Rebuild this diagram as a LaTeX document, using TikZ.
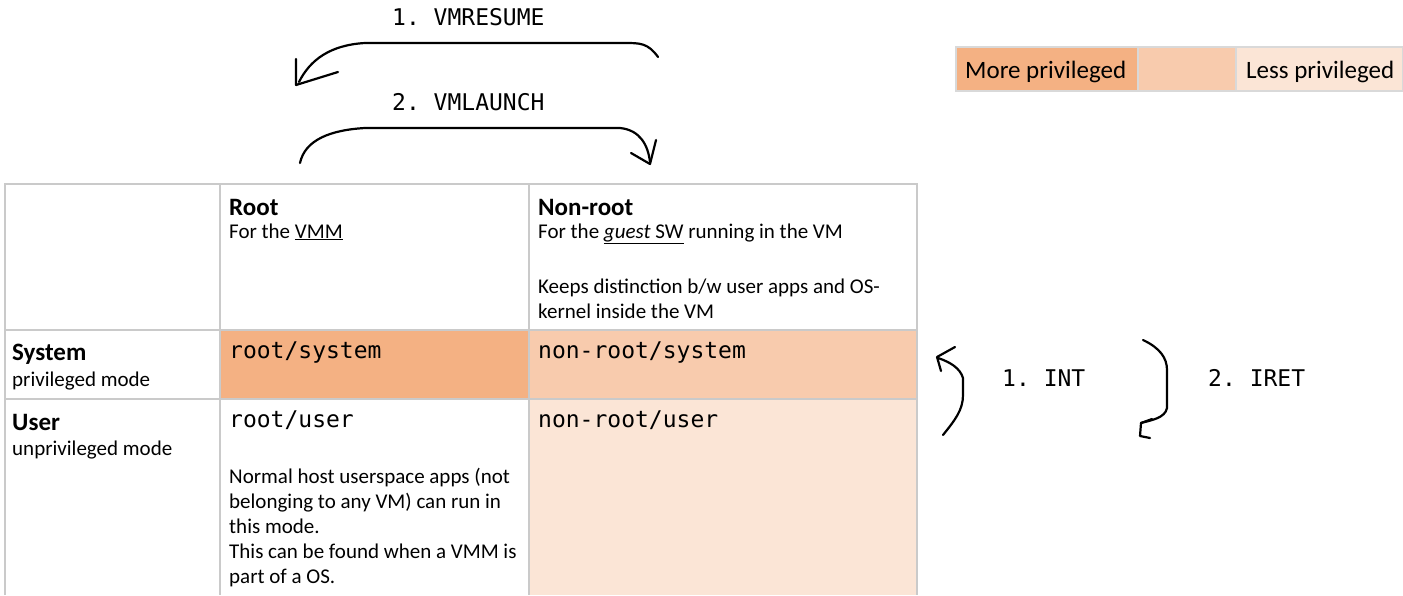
\documentclass[tikz,border=0pt]{standalone}
\usepackage{fontspec}
\setmainfont{Carlito}
\newfontfamily\codefont{DejaVu Sans Mono}
\usetikzlibrary{arrows.meta, positioning}

\definecolor{privhigh}{HTML}{F4B183}
\definecolor{privmid}{HTML}{F8CBAD}
\definecolor{privlow}{HTML}{FBE5D6}
\definecolor{gridgray}{HTML}{CACACA}
\definecolor{legendgray}{HTML}{D9D9D9}

\begin{document}
\begin{tikzpicture}[x=1pt, y=-1pt,
    every node/.style={inner sep=0pt, anchor=base west, font=\fontsize{21}{25}\selectfont},
    head/.style={font=\fontsize{25}{30}\selectfont\bfseries},
    code/.style={font=\fontsize{23}{27}\selectfont\codefont},
    hand/.style={line width=2.2pt, line cap=round, line join=round},
    tblline/.style={draw=gridgray, line width=1.4pt}]

\useasboundingbox (0,0) rectangle (1403,595);

% Cellules colorées
\fill[privhigh] (220,330) rectangle (529,399);
\fill[privmid] (529,330) rectangle (917,399);
\fill[privlow] (529,399) rectangle (917,595);

% Grille du tableau
\draw[tblline] (5,595) -- (5,184) -- (917,184) -- (917,595);
\foreach \x in {220,529} \draw[tblline] (\x,184) -- (\x,595);
\foreach \y in {330,399} \draw[tblline] (5,\y) -- (917,\y);

% En-têtes (base = dernière ligne)
\node[head] (rootH) at (229,215) {Root};
\node (rootD) at (229,238) {For the \underline{VMM}};
\node[head] (nrootH) at (538,215) {Non-root};
\node (nrootD) at (538,238) {For the \underline{\textit{guest} SW} running in the VM};
\node[align=left] (nrootK) at (538,318) {Keeps distinction b/w user apps and OS-\\kernel inside the VM};

\node[head] (sysH) at (12,360) {System};
\node (sysD) at (12,386) {privileged mode};
\node[head] (userH) at (12,430) {User};
\node (userD) at (12,455) {unprivileged mode};

% Modes
\node[code] (rootsys) at (229,358) {root/system};
\node[code] (nrootsys) at (538,358) {non-root/system};
\node[code] (rootuser) at (229,427) {root/user};
\node[code] (nrootuser) at (538,427) {non-root/user};
\node[align=left] (hostapps) at (229,583)
    {Normal host userspace apps (not\\belonging to any VM) can run in\\this mode.\\This can be found when a VMM is\\part of a OS.};

% Légende
\fill[privhigh] (956,47) rectangle (1138,91);
\fill[privmid] (1138,47) rectangle (1236,91);
\fill[privlow] (1236,47) rectangle (1403,91);
\draw[draw=legendgray, line width=1.2pt] (956,47) rectangle (1403,91);
\foreach \x in {1138,1236} \draw[draw=legendgray, line width=1.2pt] (\x,47) -- (\x,91);
\node[font=\fontsize{25}{30}\selectfont] (more) at (965,78) {More privileged};
\node[font=\fontsize{25}{30}\selectfont] (less) at (1246,78) {Less privileged};

% Transitions VMX
\node[code] (vmresume) at (392,25) {1.~VMRESUME};
\node[code] (vmlaunch) at (392,110) {2.~VMLAUNCH};
\coordinate (resA) at (658,57);
\coordinate (resB) at (299,82);
\coordinate (lauA) at (300,163);
\coordinate (lauB) at (650,162);
\draw[hand] (resA) .. controls (648,43) and (640,43) .. (625,43) -- (365,43)
    .. controls (330,45) and (310,60) .. (resB);
\draw[hand] (296,59) -- (296,85) -- (338,72);
\draw[hand] (lauA) .. controls (305,140) and (330,130) .. (365,128) -- (620,128)
    .. controls (640,130) and (648,145) .. (lauB);
\draw[hand] (631,153) -- (650,164) -- (656,140);

% Transitions INT / IRET
\node[code] (int) at (1002,386) {1.~INT};
\node[code] (iret) at (1208,386) {2.~IRET};
\coordinate (intA) at (943,435);
\coordinate (intB) at (938,358);
\coordinate (iretA) at (1143,340);
\coordinate (iretB) at (1141,423);
\draw[hand] (intA) .. controls (955,420) and (963,410) .. (963,395) -- (963,378)
    .. controls (960,368) and (950,362) .. (intB);
\draw[hand] (955,347) -- (937,357) -- (941,371);
\draw[hand] (iretA) .. controls (1160,348) and (1167,358) .. (1167,370) -- (1167,408)
    .. controls (1165,418) and (1152,420) .. (iretB);
\draw[hand] (1152,419) -- (1141,423) -- (1140,436) -- (1150,438);

\end{tikzpicture}
\end{document}
